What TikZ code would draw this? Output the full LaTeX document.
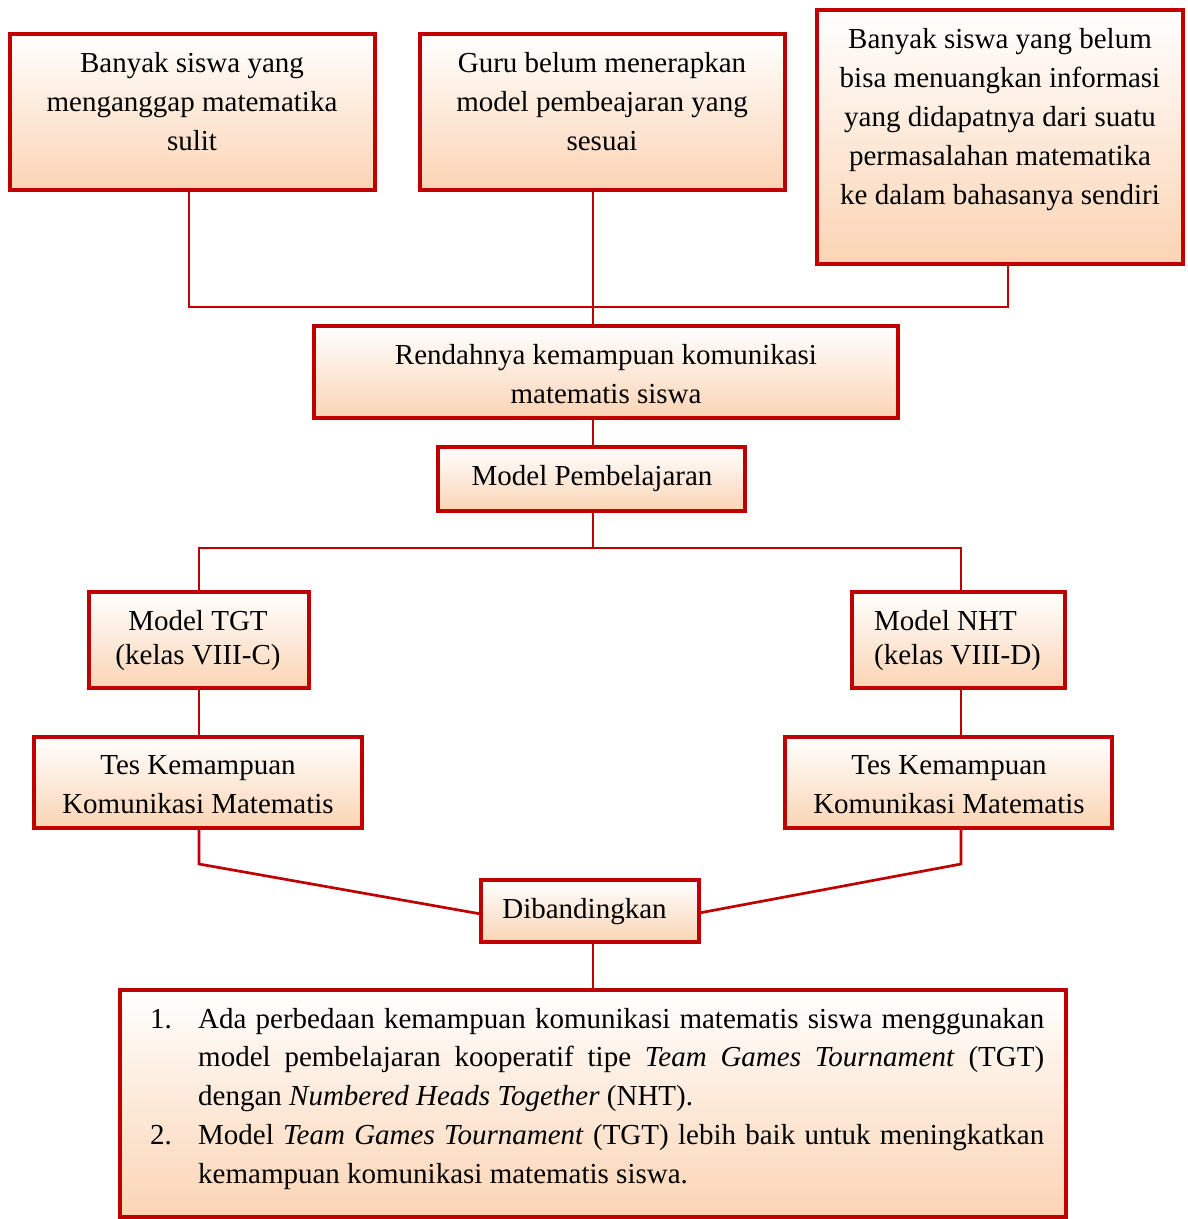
\documentclass[tikz,border=0pt]{standalone}
\usepackage{fontspec}
\setmainfont{Liberation Serif}
\definecolor{bred}{RGB}{192,0,0}
\definecolor{peach}{RGB}{251,212,180}
\begin{document}
\begin{tikzpicture}[x=1pt,y=-1pt,
  box/.style={draw=bred, line width=3.2pt, top color=white, bottom color=peach, inner sep=0pt, outer sep=0pt},
  txt/.style={font=\fontsize{29}{39}\selectfont, align=center, inner sep=0pt, anchor=base},
  tight/.style={font=\fontsize{29}{34}\selectfont},
  link/.style={draw=bred, line width=2.7pt}]
\useasboundingbox (0,0) rectangle (1187,1219);
% boxes
\node[box, minimum width=365pt, minimum height=156pt] (A) at (192.5,112) {};
\node[box, minimum width=365pt, minimum height=156pt] (B) at (602.5,112) {};
\node[box, minimum width=366pt, minimum height=254pt] (C) at (1000,137) {};
\node[box, minimum width=584pt, minimum height=92pt] (R) at (606,372) {};
\node[box, minimum width=307pt, minimum height=64pt] (MP) at (591.5,479) {};
\node[box, minimum width=220pt, minimum height=96pt] (TGT) at (199,640) {};
\node[box, minimum width=213pt, minimum height=96pt] (NHT) at (958.5,640) {};
\node[box, minimum width=328pt, minimum height=91pt] (TL) at (198,782.5) {};
\node[box, minimum width=327pt, minimum height=91pt] (TR) at (948.5,782.5) {};
\node[box, minimum width=218pt, minimum height=62pt] (D) at (590,911) {};
\node[box, minimum width=946pt, minimum height=227pt] (F) at (593,1103.5) {};
% texts (anchor = baseline of last line)
\node[txt] (At) at (192,150) {Banyak siswa yang\\menganggap matematika\\sulit};
\node[txt] (Bt) at (602,150) {Guru belum menerapkan\\model pembeajaran yang\\sesuai};
\node[txt] (Ct) at (1000,204) {Banyak siswa yang belum\\bisa menuangkan informasi\\yang didapatnya dari suatu\\permasalahan matematika\\ke dalam bahasanya sendiri};
\node[txt] (Rt) at (606,403) {Rendahnya kemampuan komunikasi\\matematis siswa};
\node[txt] (MPt) at (592,485) {Model Pembelajaran};
\node[txt, tight] (TGTt) at (198,664) {Model TGT\\(kelas VIII-C)};
\node[txt, tight, anchor=base west, align=left] (NHTt) at (874,664) {Model NHT\\(kelas VIII-D)};
\node[txt] (TLt) at (198,813) {Tes Kemampuan\\Komunikasi Matematis};
\node[txt] (TRt) at (949,813) {Tes Kemampuan\\Komunikasi Matematis};
\node[txt] (Dt) at (584.5,918) {Dibandingkan};
\node[inner sep=0pt, anchor=base west, text width=894pt, align=justify, font=\fontsize{29}{38.8}\selectfont] (Ft) at (150,1028)
{\hangindent=48pt\hangafter=1\noindent\makebox[48pt][l]{1.}Ada perbedaan kemampuan komunikasi matematis siswa menggunakan\linebreak model pembelajaran kooperatif tipe \textit{Team Games Tournament} (TGT)\linebreak dengan \textit{Numbered Heads Together} (NHT).\par
\hangindent=48pt\hangafter=1\noindent\makebox[48pt][l]{2.}Model \textit{Team Games Tournament} (TGT) lebih baik untuk meningkatkan\linebreak kemampuan komunikasi matematis siswa.\par};
% junction coordinates
\coordinate (jA) at (189,307);
\coordinate (jB) at (593,307);
\coordinate (jC) at (1008,307);
\coordinate (jM) at (593,548);
\coordinate (jL) at (199,548);
\coordinate (jR) at (961,548);
\coordinate (kL) at (199,864);
\coordinate (kR) at (961,864);
\coordinate (dL) at (481,914);
\coordinate (dR) at (700,913);
% connectors
\draw[link] (A.south -| jA) -- (jA) -- (jC) -- (C.south -| jC);
\draw[link] (B.south -| jB) -- (R.north -| jB);
\draw[link] (R.south -| jM) -- (MP.north -| jM);
\draw[link] (MP.south -| jM) -- (jM);
\draw[link] (TGT.north -| jL) -- (jL) -- (jR) -- (NHT.north -| jR);
\draw[link] (TGT.south -| jL) -- (TL.north -| jL);
\draw[link] (NHT.south -| jR) -- (TR.north -| jR);
\draw[link] (TL.south -| kL) -- (kL) -- (D.west |- dL);
\draw[link] (TR.south -| kR) -- (kR) -- (D.east |- dR);
\draw[link] (D.south -| jM) -- (F.north -| jM);
\end{tikzpicture}
\end{document}
